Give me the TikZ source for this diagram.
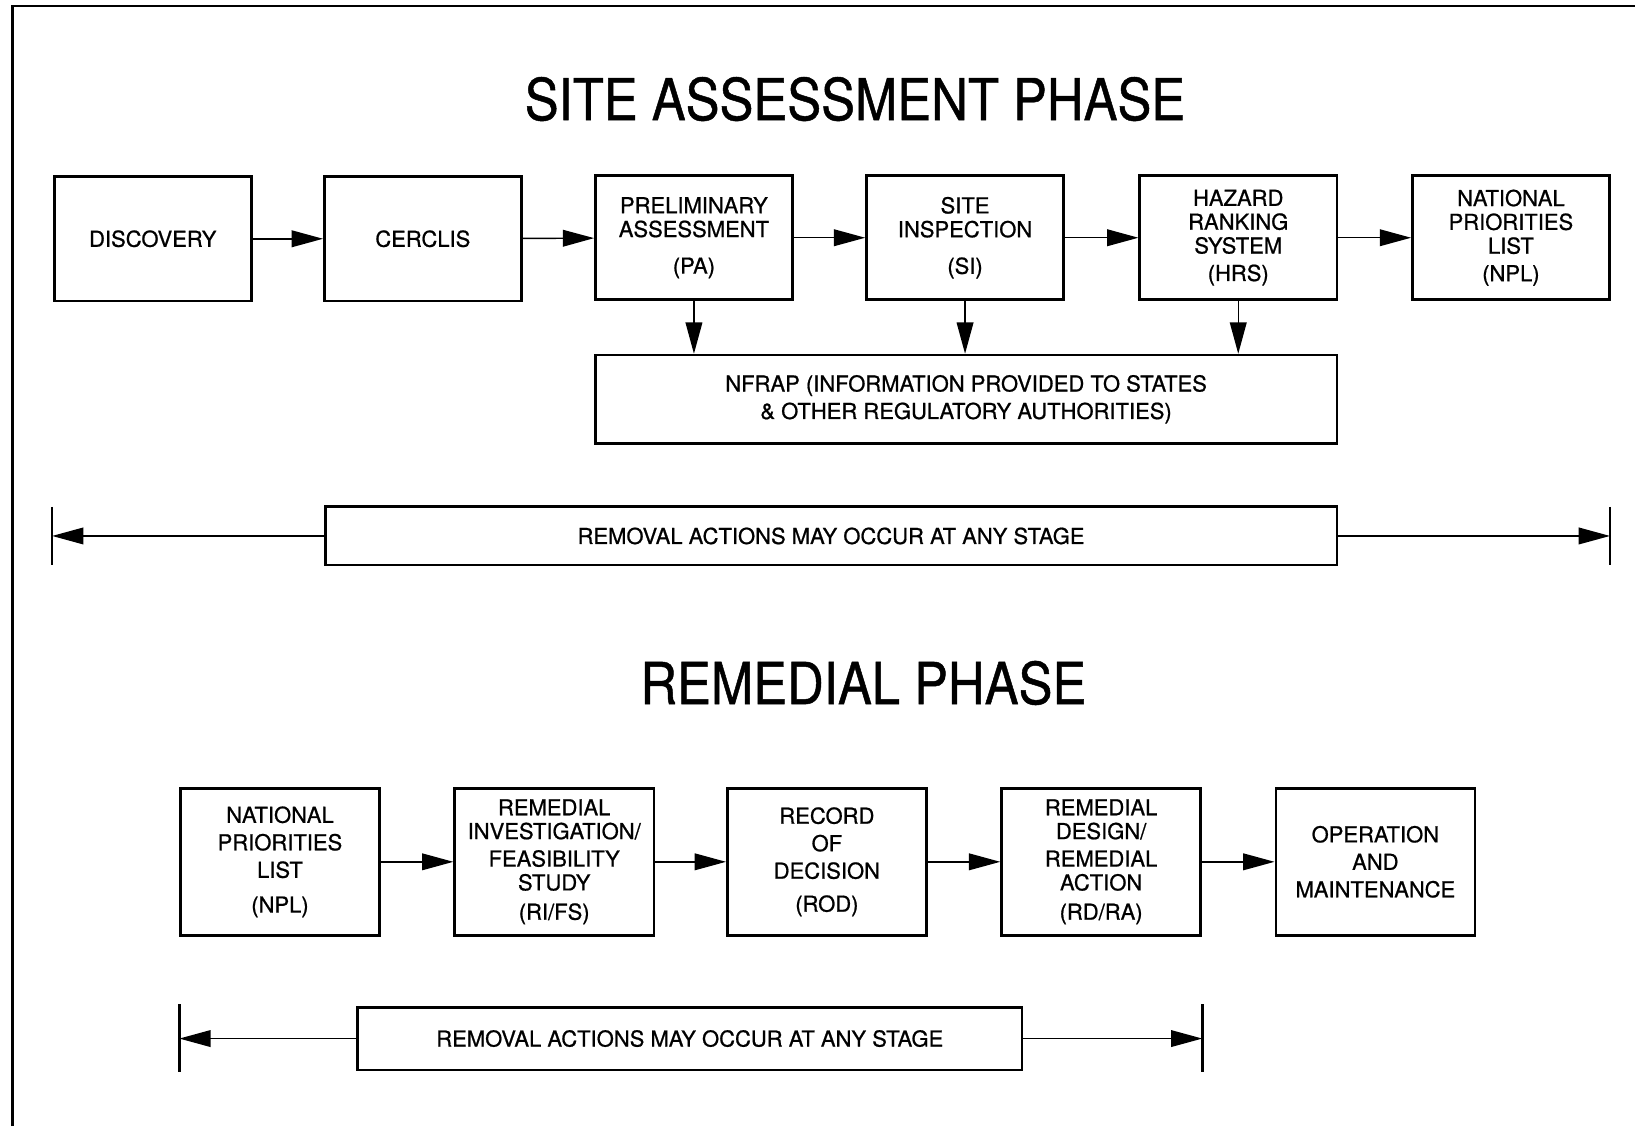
\documentclass[tikz,border=0pt]{standalone}
\usepackage{fontspec}
\setmainfont[FakeBold=0.8]{TeX Gyre Heros}
\newfontfamily\titlefont[FakeStretch=0.88,FakeBold=0.8]{TeX Gyre Heros}
\usetikzlibrary{arrows.meta}

\begin{document}
\begin{tikzpicture}[x=0.2mm,y=-0.2mm,
  box/.style={draw,line width=1.4pt,align=center,inner sep=0pt,
    font=\fontsize{12}{13}\selectfont,minimum width=3.78cm,minimum height=2.38cm},
  lowbox/.style={box,minimum width=3.82cm,minimum height=2.82cm},
  flow/.style={-{Triangle[length=6mm,width=3.2mm]},line width=0.8pt},
  bar/.style={line width=1.4pt},
  title/.style={font=\titlefont\fontsize{31.5}{36}\selectfont}]
\useasboundingbox (0,0) rectangle (1568,1080);
\draw[line width=1.2pt] (12,1080) -- (12,6) -- (1568,6);

% site assessment phase
\node[title] (t1) at (820,95) {SITE ASSESSMENT PHASE};
\node[box] (disc) at (146.5,229) {DISCOVERY};
\node[box] (cerc) at (405.5,229) {CERCLIS};
\node[box] (pa)   at (665.5,228) {PRELIMINARY\\ASSESSMENT\\[7pt](PA)};
\node[box] (si)   at (925.5,228) {SITE\\INSPECTION\\[7pt](SI)};
\node[box] (hrs)  at (1187.5,228) {HAZARD\\RANKING\\SYSTEM\\[2pt](HRS)};
\node[box] (npl)  at (1449,228) {NATIONAL\\PRIORITIES\\LIST\\[2pt](NPL)};
\node[box,minimum width=14.22cm,minimum height=1.7cm] (nfrap) at (926.5,383)
  {NFRAP (INFORMATION PROVIDED TO STATES\\[2pt]\& OTHER REGULATORY AUTHORITIES)};
\foreach \a/\b in {disc/cerc,cerc/pa,pa/si,si/hrs,hrs/npl}
  \draw[flow] (\a) -- (\b);
\foreach \a in {pa,si,hrs}
  \draw[flow] (\a) -- (\a |- nfrap.north);

\node[box,minimum width=19.4cm,minimum height=1.12cm] (rem1) at (797,514)
  {REMOVAL ACTIONS MAY OCCUR AT ANY STAGE};
\coordinate (r1l) at (50,514);
\coordinate (r1r) at (1544,514);
\draw[bar] (50,486) -- (50,542);
\draw[bar] (1544,486) -- (1544,542);
\draw[flow] (rem1) -- (r1l);
\draw[flow] (rem1) -- (r1r);

% remedial phase
\node[title] (t2) at (828,655) {REMEDIAL PHASE};
\node[lowbox] (npl2) at (268.5,826.5) {NATIONAL\\[2pt]PRIORITIES\\[2pt]LIST\\[6pt](NPL)};
\node[lowbox] (rifs) at (531.5,826.5) {REMEDIAL\\INVESTIGATION/\\[2pt]FEASIBILITY\\STUDY\\[3pt](RI/FS)};
\node[lowbox] (rod)  at (793,826.5) {RECORD\\[2pt]OF\\[2pt]DECISION\\[5pt](ROD)};
\node[lowbox] (rdra) at (1056,826.5) {REMEDIAL\\DESIGN/\\[2pt]REMEDIAL\\ACTION\\[3pt](RD/RA)};
\node[lowbox] (om)   at (1319,826.5) {OPERATION\\[2pt]AND\\[2pt]MAINTENANCE};
\foreach \a/\b in {npl2/rifs,rifs/rod,rod/rdra,rdra/om}
  \draw[flow] (\a) -- (\b);

\node[box,minimum width=12.74cm,minimum height=1.2cm] (rem2) at (661.5,996)
  {REMOVAL ACTIONS MAY OCCUR AT ANY STAGE};
\coordinate (r2l) at (172,996);
\coordinate (r2r) at (1153,996);
\draw[bar] (172,963) -- (172,1028);
\draw[bar] (1153,963) -- (1153,1028);
\draw[flow] (rem2) -- (r2l);
\draw[flow] (rem2) -- (r2r);
\end{tikzpicture}
\end{document}
